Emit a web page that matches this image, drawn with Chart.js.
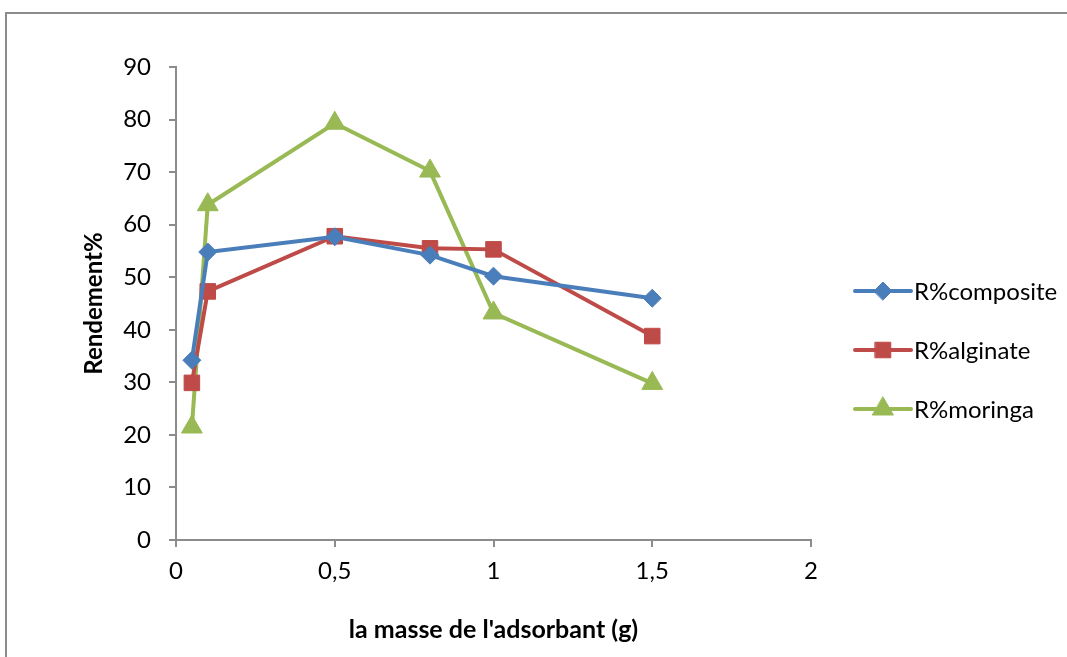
<!DOCTYPE html>
<html>
<head>
<meta charset="utf-8">
<script src="https://cdn.jsdelivr.net/npm/chart.js@4"></script>
<style>
  body { margin: 0; background: #fff; overflow: hidden; }
  #wrap { position: relative; width: 1067px; height: 657px; }
  #cadre { position: absolute; left: 5px; top: 12px; width: 1100px; height: 700px; border: 2px solid #8c8c8c; box-sizing: border-box; }
  canvas { position: absolute; left: 0; top: 0; }
</style>
</head>
<body>
<div id="wrap">
  <div id="cadre"></div>
  <canvas id="graphique" width="1067" height="657"></canvas>
</div>
<script>
// masse de l'adsorbant (g)
const masses = [0.05, 0.1, 0.5, 0.8, 1, 1.5];
// rendement % par adsorbant
const rComposite = [34.2, 54.8, 57.7, 54.2, 50.2, 46.0];
const rAlginate = [29.9, 47.3, 57.8, 55.5, 55.3, 38.8];
const rMoringa = [21.5, 63.8, 79.3, 70.2, 43.2, 29.8];

const xTicks = [0, 0.5, 1, 1.5, 2];
const yTicks = [0, 10, 20, 30, 40, 50, 60, 70, 80, 90];

const POLICE = 'Lato, "Liberation Sans", sans-serif';

function points(valeurs) {
    return masses.map((m, i) => ({ x: m, y: valeurs[i] }));
}

// legende a droite, ligne + marqueur comme dans Excel
const legendeExcel = {
    id: 'legendeExcel',
    afterDraw(chart) {
        const ctx = chart.ctx;
        const x0 = 855, x1 = 911, yDebut = 291, pas = 59;
        chart.data.datasets.forEach((ds, i) => {
            const y = yDebut + i * pas;
            ctx.save();
            ctx.strokeStyle = ds.borderColor;
            ctx.lineWidth = 4;
            ctx.lineCap = 'round';
            ctx.beginPath();
            ctx.moveTo(x0, y);
            ctx.lineTo(x1, y);
            ctx.stroke();
            ctx.fillStyle = ds.borderColor;
            ctx.lineWidth = 1;
            Chart.helpers.drawPoint(ctx, {
                pointStyle: ds.pointStyle,
                radius: ds.pointRadius,
                rotation: 0,
                borderWidth: 1
            }, (x0 + x1) / 2, y);
            ctx.fillStyle = '#000';
            ctx.font = '24px ' + POLICE;
            ctx.textBaseline = 'middle';
            ctx.textAlign = 'left';
            ctx.fillText(ds.label, x1 + 3, y + 1);
            ctx.restore();
        });
    }
};

new Chart(document.getElementById('graphique'), {
    type: 'scatter',
    data: {
        datasets: [{
            label: 'R%composite',
            data: points(rComposite),
            borderColor: '#4a7ebb',
            backgroundColor: '#4a7ebb',
            pointStyle: 'rectRot',
            pointRadius: 9,
            borderWidth: 4,
            pointBorderWidth: 1,
            showLine: true
        }, {
            label: 'R%alginate',
            data: points(rAlginate),
            borderColor: '#be4b48',
            backgroundColor: '#be4b48',
            pointStyle: 'rect',
            pointRadius: 11,
            borderWidth: 4,
            pointBorderWidth: 1,
            showLine: true
        }, {
            label: 'R%moringa',
            data: points(rMoringa),
            borderColor: '#98b954',
            backgroundColor: '#98b954',
            pointStyle: 'triangle',
            pointRadius: 12,
            borderWidth: 4,
            pointBorderWidth: 1,
            showLine: true
        }]
    },
    options: {
        responsive: false,
        animation: false,
        layout: { padding: { left: 0, top: 67, right: 256, bottom: 0 } },
        plugins: {
            legend: { display: false },
            tooltip: { enabled: false }
        },
        scales: {
            x: {
                type: 'linear',
                min: 0,
                max: 2,
                afterBuildTicks: (axe) => { axe.ticks = xTicks.map(v => ({ value: v })); },
                afterFit: (axe) => { axe.height = 117; },
                border: { color: '#8c8c8c', width: 2 },
                grid: { drawOnChartArea: false, drawTicks: true, tickLength: 7, tickColor: '#8c8c8c', lineWidth: 2 },
                ticks: {
                    color: '#000',
                    padding: 10,
                    font: { family: POLICE, size: 24 },
                    callback: (v) => String(v).replace('.', ',')
                },
                title: {
                    display: true,
                    text: "la masse de l'adsorbant (g)",
                    color: '#000',
                    font: { family: POLICE, size: 25, weight: 'bold' },
                    padding: { top: 0, bottom: 12 }
                }
            },
            y: {
                min: 0,
                max: 90,
                afterBuildTicks: (axe) => { axe.ticks = yTicks.map(v => ({ value: v })); },
                afterFit: (axe) => { axe.width = 176; },
                border: { color: '#8c8c8c', width: 2 },
                grid: { drawOnChartArea: false, drawTicks: true, tickLength: 7, tickColor: '#8c8c8c', lineWidth: 2 },
                ticks: {
                    color: '#000',
                    padding: 18,
                    font: { family: POLICE, size: 24 }
                },
                title: {
                    display: true,
                    text: 'Rendement%',
                    color: '#000',
                    font: { family: POLICE, size: 24, weight: 'bold' },
                    padding: { top: 80, bottom: 0 }
                }
            }
        }
    },
    plugins: [legendeExcel]
});
</script>
</body>
</html>
